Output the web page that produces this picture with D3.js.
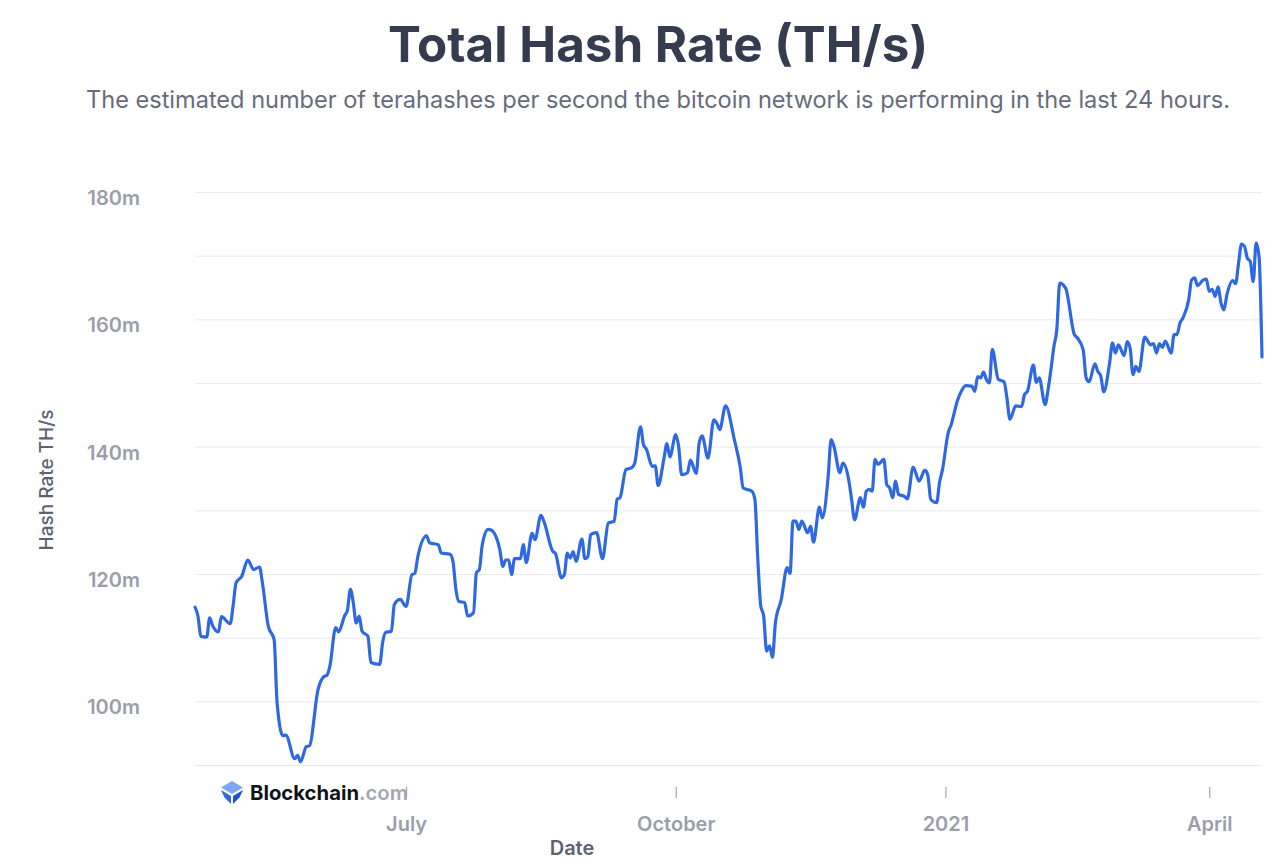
<!DOCTYPE html>
<html>
<head>
<meta charset="utf-8">
<script src="https://cdn.jsdelivr.net/npm/d3@7/dist/d3.min.js"></script>
<style>
  html, body { margin: 0; padding: 0; background: #fff; }
  svg { display: block; font-family: Inter, "Noto Sans", "DejaVu Sans", sans-serif; }
</style>
</head>
<body>
<svg id="grafico" width="1280" height="862"></svg>
<script>
// hash rate total, leido a ojo del grafico original (valores en millones de TH/s)
var fechas = [
  "2020-04-20","2020-04-21","2020-04-22","2020-04-24","2020-04-25","2020-04-26","2020-04-28","2020-04-29",
  "2020-05-02","2020-05-03","2020-05-04","2020-05-06","2020-05-08","2020-05-10","2020-05-12","2020-05-13",
  "2020-05-15","2020-05-17","2020-05-18","2020-05-20","2020-05-21","2020-05-24","2020-05-25","2020-05-26",
  "2020-05-28","2020-05-29","2020-06-01","2020-06-03","2020-06-04","2020-06-05","2020-06-07","2020-06-08",
  "2020-06-10","2020-06-11","2020-06-12","2020-06-13","2020-06-14","2020-06-15","2020-06-16","2020-06-18",
  "2020-06-19","2020-06-22","2020-06-23","2020-06-24","2020-06-26","2020-06-27","2020-06-29","2020-07-01",
  "2020-07-03","2020-07-04","2020-07-05","2020-07-08","2020-07-09","2020-07-12","2020-07-13","2020-07-16",
  "2020-07-17","2020-07-18","2020-07-19","2020-07-21","2020-07-22","2020-07-24","2020-07-25","2020-07-26",
  "2020-07-27","2020-07-29","2020-07-30","2020-08-02","2020-08-03","2020-08-04","2020-08-05","2020-08-06",
  "2020-08-07","2020-08-09","2020-08-10","2020-08-11","2020-08-13","2020-08-14","2020-08-16","2020-08-17",
  "2020-08-20","2020-08-21","2020-08-23","2020-08-24","2020-08-25","2020-08-26","2020-08-27","2020-08-28",
  "2020-08-30","2020-08-31","2020-09-01","2020-09-02","2020-09-04","2020-09-06","2020-09-08","2020-09-10",
  "2020-09-11","2020-09-12","2020-09-14","2020-09-16","2020-09-17","2020-09-19","2020-09-20","2020-09-21",
  "2020-09-23","2020-09-24","2020-09-25","2020-09-27","2020-09-28","2020-09-29","2020-10-01","2020-10-02",
  "2020-10-03","2020-10-05","2020-10-06","2020-10-08","2020-10-09","2020-10-10","2020-10-12","2020-10-14",
  "2020-10-15","2020-10-16","2020-10-18","2020-10-21","2020-10-23","2020-10-24","2020-10-27","2020-10-28",
  "2020-10-29","2020-10-30","2020-10-31","2020-11-01","2020-11-02","2020-11-03","2020-11-04","2020-11-06",
  "2020-11-08","2020-11-09","2020-11-10","2020-11-11","2020-11-12","2020-11-13","2020-11-15","2020-11-16",
  "2020-11-17","2020-11-19","2020-11-20","2020-11-22","2020-11-23","2020-11-24","2020-11-26","2020-11-27",
  "2020-11-29","2020-11-30","2020-12-01","2020-12-03","2020-12-04","2020-12-05","2020-12-06","2020-12-07",
  "2020-12-08","2020-12-09","2020-12-11","2020-12-12","2020-12-13","2020-12-14","2020-12-15","2020-12-16",
  "2020-12-18","2020-12-19","2020-12-21","2020-12-23","2020-12-25","2020-12-26","2020-12-27","2020-12-29",
  "2020-12-30","2020-12-31","2021-01-02","2021-01-03","2021-01-04","2021-01-05","2021-01-06","2021-01-08",
  "2021-01-10","2021-01-11","2021-01-12","2021-01-13","2021-01-14","2021-01-15","2021-01-16","2021-01-17",
  "2021-01-19","2021-01-21","2021-01-22","2021-01-23","2021-01-25","2021-01-27","2021-01-28","2021-01-29",
  "2021-01-31","2021-02-01","2021-02-02","2021-02-04","2021-02-05","2021-02-06","2021-02-07","2021-02-08",
  "2021-02-09","2021-02-11","2021-02-14","2021-02-15","2021-02-17","2021-02-18","2021-02-19","2021-02-21",
  "2021-02-22","2021-02-23","2021-02-24","2021-02-26","2021-02-27","2021-02-28","2021-03-01","2021-03-03",
  "2021-03-04","2021-03-05","2021-03-06","2021-03-07","2021-03-08","2021-03-10","2021-03-12","2021-03-13",
  "2021-03-14","2021-03-15","2021-03-16","2021-03-17","2021-03-19","2021-03-20","2021-03-21","2021-03-22",
  "2021-03-23","2021-03-25","2021-03-26","2021-03-27","2021-03-28","2021-03-30","2021-03-31","2021-04-01",
  "2021-04-02","2021-04-03","2021-04-04","2021-04-05","2021-04-06","2021-04-07","2021-04-09","2021-04-10",
  "2021-04-11","2021-04-12","2021-04-13","2021-04-14","2021-04-15","2021-04-16","2021-04-17","2021-04-18",
  "2021-04-19"
];

var hashRate = [
  114.8,113.4,110.2,110.1,113.1,111.9,110.9,113.3,
  112.2,115.0,118.6,119.7,122.2,120.7,121.1,118.6,
  111.8,109.7,99.8,94.6,94.7,91.0,91.5,90.5,
  92.9,93.0,101.9,103.9,104.1,105.5,111.6,110.9,
  113.4,114.3,117.6,115.5,112.3,113.4,111.0,110.2,
  106.1,105.8,109.2,110.8,111.0,115.2,116.0,114.9,
  119.9,120.1,122.7,126.0,124.9,124.6,123.3,123.1,
  122.0,117.6,115.7,115.5,113.4,113.9,120.2,120.7,
  124.6,127.0,126.9,123.8,121.2,122.2,122.2,119.9,
  122.4,122.4,124.6,121.8,126.4,125.4,129.2,128.3,
  123.6,123.2,119.4,119.9,123.3,122.5,123.5,122.0,
  125.5,122.4,122.7,126.2,126.5,122.4,128.0,128.3,
  131.7,132.0,136.4,136.7,137.4,143.1,140.3,139.6,
  136.9,137.0,133.9,138.2,140.5,138.4,141.9,140.0,
  135.6,135.9,137.9,135.8,140.6,141.7,138.2,144.2,
  143.7,142.7,146.4,141.1,136.8,133.5,133.0,131.7,
  122.3,115.0,113.4,107.9,108.7,106.9,112.3,116.0,
  121.0,120.1,128.3,128.3,127.0,128.3,126.5,127.5,
  125.0,130.5,128.8,135.3,141.1,140.0,135.9,137.4,
  134.8,131.7,128.5,132.0,130.5,133.0,133.3,133.0,
  138.0,137.2,138.0,134.0,133.5,132.0,134.6,132.5,
  132.2,131.8,136.8,134.6,136.3,135.5,131.7,131.2,
  134.4,136.4,142.3,143.5,145.3,147.1,148.3,149.6,
  149.5,148.7,151.0,150.8,151.7,150.5,150.0,155.3,
  150.6,150.2,147.6,144.3,146.4,146.3,148.2,148.7,
  152.8,150.1,150.8,146.6,148.9,152.1,155.7,158.4,
  165.7,164.9,157.6,157.1,155.2,150.8,150.2,153.0,
  151.8,151.1,148.6,153.1,156.3,154.7,156.0,154.3,
  156.5,155.5,151.3,152.6,151.8,157.2,156.0,156.2,
  154.7,156.2,155.6,156.6,154.7,157.6,157.6,159.4,
  160.2,163.1,166.2,166.5,165.3,166.2,166.3,164.4,
  164.7,163.6,165.1,162.6,161.5,163.8,166.1,165.6,
  168.8,171.8,171.5,169.6,169.1,165.9,172.0,169.8,
  154.1
];

var rangoFechas = ["2020-04-20", "2021-04-19"];
var rangoValores = [90, 180];
var lineasGuia = [90, 100, 110, 120, 130, 140, 150, 160, 170, 180];
var marcasY = [100, 120, 140, 160, 180];
var marcasX = ["2020-07-01", "2020-10-01", "2021-01-01", "2021-04-01"];
var textosX = ["July", "October", "2021", "April"];

(function () {
  var svg = d3.select("#grafico");
  var leerFecha = d3.timeParse("%Y-%m-%d");

  var AZUL = "#2f69e2";
  var GRIS_TEXTO = "#9b9ea9";
  var GRIS_GUIA = "#e9eaed";

  var margen = { left: 195, right: 1262, top: 192, bottom: 765 };

  var datos = fechas.map(function (f, i) {
    return { fecha: leerFecha(f), valor: hashRate[i] };
  });

  var x = d3.scaleTime()
    .domain(rangoFechas.map(leerFecha))
    .range([margen.left, margen.right]);
  var y = d3.scaleLinear()
    .domain(rangoValores)
    .range([margen.bottom, margen.top]);

  // ajusta el tamano de letra para que el texto ocupe el ancho que tiene en la imagen
  function ajustarAncho(sel, ancho) {
    var base = parseFloat(sel.attr("font-size"));
    var medido = sel.node().getComputedTextLength();
    if (medido > 0) sel.attr("font-size", (base * ancho / medido).toFixed(2));
  }

  // titulo y subtitulo
  var titulo = svg.append("text")
    .attr("x", 658).attr("y", 62)
    .attr("text-anchor", "middle")
    .attr("font-size", 48).attr("font-weight", 700)
    .attr("fill", "#353c4f")
    .text("Total Hash Rate (TH/s)");
  ajustarAncho(titulo, 540);

  var subtitulo = svg.append("text")
    .attr("x", 658).attr("y", 108)
    .attr("text-anchor", "middle")
    .attr("font-size", 21).attr("font-weight", 400)
    .attr("fill", "#676c7b")
    .text("The estimated number of terahashes per second the bitcoin network is performing in the last 24 hours.");
  ajustarAncho(subtitulo, 1144);

  // lineas guia cada 10m, etiquetas cada 20m
  var guias = svg.append("g")
    .attr("transform", "translate(" + margen.left + ",0)")
    .call(d3.axisLeft(y).tickValues(lineasGuia).tickSize(-(margen.right - margen.left)).tickFormat(""));
  guias.select(".domain").remove();
  guias.selectAll("line").attr("stroke", GRIS_GUIA).attr("stroke-width", 1);

  // d3 pone font-family sans-serif en el grupo del eje, se lo quitamos para heredar Inter
  var ejeY = svg.append("g")
    .attr("transform", "translate(140,0)")
    .call(d3.axisLeft(y).tickValues(marcasY).tickSize(0).tickPadding(0)
      .tickFormat(function (d) { return d + "m"; }))
    .attr("font-family", null).attr("font-size", null);
  ejeY.select(".domain").remove();
  ejeY.selectAll("text")
    .attr("dy", "0.62em")
    .attr("font-size", 20).attr("font-weight", 600)
    .attr("fill", GRIS_TEXTO);

  var ejeX = svg.append("g")
    .attr("transform", "translate(0,787)")
    .call(d3.axisBottom(x).tickValues(marcasX.map(leerFecha)).tickSize(11).tickPadding(19)
      .tickFormat(function (d, i) { return textosX[i]; }))
    .attr("font-family", null).attr("font-size", null);
  ejeX.select(".domain").remove();
  ejeX.selectAll("line").attr("stroke", "#a3a6b0").attr("stroke-width", 1.2);
  ejeX.selectAll("text")
    .attr("font-size", 20).attr("font-weight", 600)
    .attr("fill", GRIS_TEXTO);

  // titulos de los ejes
  svg.append("text")
    .attr("transform", "translate(53,480) rotate(-90)")
    .attr("text-anchor", "middle")
    .attr("font-size", 19).attr("font-weight", 500)
    .attr("fill", "#5e6372")
    .text("Hash Rate TH/s");

  // en el original queda casi pegado al borde de abajo
  svg.append("text")
    .attr("x", 572).attr("y", 855)
    .attr("text-anchor", "middle")
    .attr("font-size", 20).attr("font-weight", 600)
    .attr("fill", "#5e6372")
    .text("Date");

  // la serie
  var linea = d3.line()
    .x(function (d) { return x(d.fecha); })
    .y(function (d) { return y(d.valor); })
    .curve(d3.curveMonotoneX);

  svg.append("path")
    .datum(datos)
    .attr("d", linea)
    .attr("fill", "none")
    .attr("stroke", AZUL)
    .attr("stroke-width", 3.2)
    .attr("stroke-linejoin", "round")
    .attr("stroke-linecap", "round");

  // marca de agua abajo a la izquierda
  var logo = svg.append("g").attr("transform", "translate(232,792)");
  logo.append("path").attr("d", "M0,-11 L11,-4.5 L0,2 L-11,-4.5 Z").attr("fill", "#7ea6f0");
  logo.append("path").attr("d", "M-11,-2 L-1,4 L-1,12 L-7.5,5.5 Z").attr("fill", "#2f69e2");
  logo.append("path").attr("d", "M11,-2 L1,4 L1,12 L7.5,5.5 Z").attr("fill", "#1f4fc9");

  var marca = svg.append("text")
    .attr("x", 250).attr("y", 800)
    .attr("font-size", 21).attr("font-weight", 700)
    .attr("fill", "#111318");
  marca.append("tspan").text("Blockchain");
  marca.append("tspan").attr("fill", "#a3a7b2").attr("font-weight", 600).text(".com");
  ajustarAncho(marca, 158);
})();
</script>
</body>
</html>
